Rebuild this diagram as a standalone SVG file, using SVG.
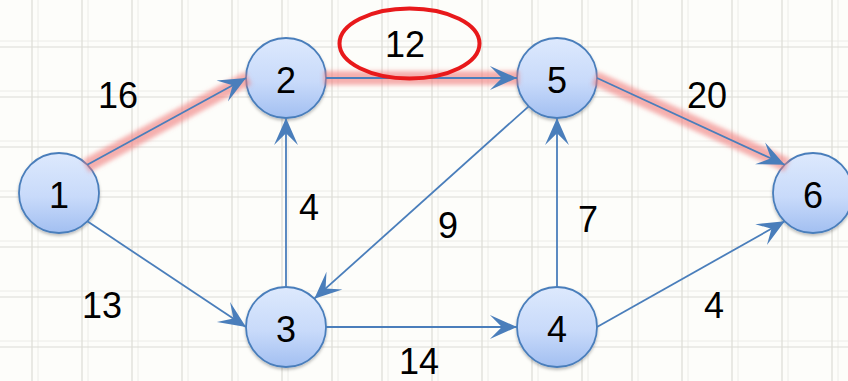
<svg xmlns="http://www.w3.org/2000/svg" width="848" height="381" viewBox="0 0 848 381">
<style>
.grid{stroke:#dcdcd6;stroke-width:1.2;fill:none}
.grid2{stroke:#ececE8;stroke-width:1;fill:none}
.node circle{fill:url(#ng);stroke:#4a7ebb;stroke-width:1.8;filter:url(#sh)}
.lbl{font-family:"Liberation Sans",Arial,sans-serif;font-size:36px;fill:#000;text-anchor:middle}
.edge{stroke:#4a7ebb;stroke-width:1.8;fill:none;marker-end:url(#arr)}
.glow{stroke:#f07a7a;stroke-width:14;stroke-opacity:0.6;fill:none;filter:url(#bl);stroke-linecap:butt}
</style>
<defs>
<linearGradient id="ng" x1="0" y1="0" x2="0" y2="1">
<stop offset="0" stop-color="#dde9fd"/>
<stop offset="0.55" stop-color="#c8dafa"/>
<stop offset="1" stop-color="#a2bff1"/>
</linearGradient>
<filter id="sh" x="-20%" y="-20%" width="140%" height="150%">
<feDropShadow dx="0" dy="2" stdDeviation="1.5" flood-color="#000" flood-opacity="0.25"/>
</filter>
<filter id="bl" filterUnits="userSpaceOnUse" x="0" y="0" width="848" height="381">
<feGaussianBlur stdDeviation="2.2"/>
</filter>
<marker id="arr" markerUnits="userSpaceOnUse" markerWidth="30" markerHeight="26" viewBox="-26 -12 27 24" refX="0" refY="0" orient="auto">
<path d="M0,0 L-25,-11 L-14,0 L-25,11 Z" fill="#4a7ebb"/>
</marker>
</defs>
<rect width="848" height="381" fill="#fdfdfa"/>
<g id="grid">
<path class="grid2" d="M38,0V381M88,0V381M138,0V381M188,0V381M238,0V381M288,0V381M338,0V381M388,0V381M438,0V381M488,0V381M538,0V381M588,0V381M638,0V381M688,0V381M738,0V381M788,0V381M838,0V381M0,41H848M0,91H848M0,141H848M0,191H848M0,241H848M0,291H848M0,341H848"/>
<path class="grid" d="M32,0V381M82,0V381M132,0V381M182,0V381M232,0V381M282,0V381M332,0V381M382,0V381M432,0V381M482,0V381M532,0V381M582,0V381M632,0V381M682,0V381M732,0V381M782,0V381M832,0V381M0,47H848M0,97H848M0,147H848M0,197H848M0,247H848M0,297H848M0,347H848"/>
</g>
<g id="n1" class="node"><circle cx="59" cy="193" r="40"/><text class="lbl" x="59" y="208">1</text></g>
<g id="n2" class="node"><circle cx="286" cy="78" r="40"/><text class="lbl" x="286" y="93">2</text></g>
<g id="n5" class="node"><circle cx="557" cy="78" r="40"/><text class="lbl" x="557" y="93">5</text></g>
<g id="n6" class="node"><circle cx="813" cy="193" r="40"/><text class="lbl" x="813" y="208">6</text></g>
<g id="n3" class="node"><circle cx="286" cy="327" r="40"/><text class="lbl" x="286" y="342">3</text></g>
<g id="n4" class="node"><circle cx="557" cy="327" r="40"/><text class="lbl" x="557" y="342">4</text></g>
<g id="connectors">
<path class="glow" d="M86,166 L248,78"/>
<path class="glow" d="M324,78 L519,78"/>
<path class="glow" d="M595,78 L787,165"/>
<path class="edge" d="M87.3,164.7 L246,78"/>
<path class="edge" d="M326,78 L517,78"/>
<path class="edge" d="M597,78 L784.7,164.7"/>
<path class="edge" d="M87.3,221.3 L246,327"/>
<path class="edge" d="M286,287 L286,118"/>
<path class="edge" d="M528.7,106.3 L314.3,298.7"/>
<path class="edge" d="M326,327 L517,327"/>
<path class="edge" d="M557,287 L557,118"/>
<path class="edge" d="M597,327 L784.7,221.3"/>
</g>
<g id="labels">
<text class="lbl" x="118" y="108">16</text>
<text class="lbl" x="405" y="57">12</text>
<ellipse cx="409.5" cy="43.5" rx="70" ry="35" fill="none" stroke="#e8191b" stroke-width="4"/>
<text class="lbl" x="707" y="108">20</text>
<text class="lbl" x="309" y="220">4</text>
<text class="lbl" x="102" y="318">13</text>
<text class="lbl" x="448" y="238">9</text>
<text class="lbl" x="588" y="232">7</text>
<text class="lbl" x="419" y="374">14</text>
<text class="lbl" x="714" y="318">4</text>
</g>
</svg>
